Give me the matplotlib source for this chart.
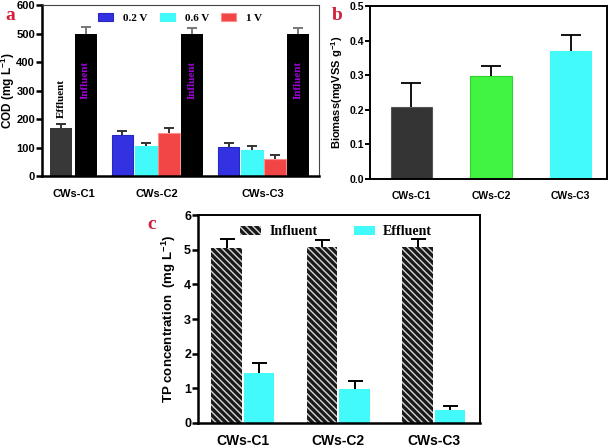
import numpy as np
import matplotlib
matplotlib.use("Agg")
import matplotlib.pyplot as plt

plt.rcParams['font.family'] = ['Liberation Sans', 'DejaVu Sans']
plt.rcParams['font.weight'] = 'bold'
plt.rcParams['hatch.linewidth'] = 1.0
plt.rcParams['mathtext.fontset'] = 'custom'
plt.rcParams['mathtext.rm'] = 'Liberation Sans:bold'
plt.rcParams['mathtext.bf'] = 'Liberation Sans:bold'
plt.rcParams['mathtext.default'] = 'bf'

# panel a: COD
groups = ['CWs-C1', 'CWs-C2', 'CWs-C3']
cod_eff_c1 = 169
cod_eff_c1_err = 13
voltages = ['0.2 V', '0.6 V', '1 V']
cod_c2 = [146, 106, 152]
cod_c2_err = [13, 10, 18]
cod_c3 = [102, 90, 60]
cod_c3_err = [13, 15, 14]
cod_influent = [500, 500, 500]
cod_influent_err = [22, 19, 20]

# panel b: biomass
biomass = [0.209, 0.297, 0.370]
biomass_err = [0.068, 0.030, 0.045]

# panel c: TP
tp_influent = [5.06, 5.07, 5.09]
tp_influent_err = [0.25, 0.21, 0.21]
tp_effluent = [1.43, 0.97, 0.375]
tp_effluent_err = [0.31, 0.23, 0.125]

serif = ['Liberation Serif', 'DejaVu Serif']
vcolors = ['#3232e2', '#42fafa', '#f24646']
vedges = ['#2828c0', '#42fafa', '#ff8c8c']


def up_err(axis, x, y, e, color, cap, lw=1.4):
    # error bar drawn upward only, no cap on the bar top
    x = np.atleast_1d(x)
    y = np.atleast_1d(y)
    e = np.atleast_1d(e)
    _, caps, _ = axis.errorbar(x, y, yerr=[np.zeros(len(y)), e], fmt='none', ecolor=color,
                               elinewidth=lw, capsize=cap, capthick=lw)
    caps[0].set_visible(False)


fig = plt.figure(figsize=(6.14, 4.47), dpi=100)

# ---------------- a ----------------
ax = fig.add_axes([0.0684, 0.606, 0.451, 0.3826])
w = 0.95
x_eff1, x_inf1 = 0.0, 1.065
ax.bar(x_eff1, cod_eff_c1, w, color='#383838')
up_err(ax, x_eff1, cod_eff_c1, cod_eff_c1_err, '#333333', 3.3)
ax.text(x_eff1, 205, 'Effluent', rotation=90, ha='center', va='bottom',
        family=serif, fontsize=8, fontweight='bold', color='black')

starts = [2.67, 7.28]
inf_x = [x_inf1]
for s, vals, errs in zip(starts, [cod_c2, cod_c3], [cod_c2_err, cod_c3_err]):
    for k in range(3):
        xx = s + k * 1.005
        ax.bar(xx, vals[k], w, color=vcolors[k], edgecolor=vedges[k], linewidth=0.8,
               label=voltages[k] if s == starts[0] else None)
        up_err(ax, xx, vals[k], errs[k], '#333333', 3.3)
    inf_x.append(s + 3.02)
for xx, v, e in zip(inf_x, cod_influent, cod_influent_err):
    ax.bar(xx, v, w, color='black')
    up_err(ax, xx, v, e, '#777777', 3.3)
    ax.text(xx, 338, 'Influent', rotation=90, ha='center', va='center',
            family=serif, fontsize=8, fontweight='bold', color='#a000d8')

ax.set_xlim(-0.83, 11.21)
ax.set_ylim(0, 600)
ax.set_yticks(np.arange(0, 601, 100))
ax.set_xticks([(x_eff1 + x_inf1) / 2, (starts[0] + inf_x[1]) / 2, (starts[1] + inf_x[2]) / 2])
ax.set_xticklabels(groups)
ax.tick_params(axis='x', length=0, pad=9, labelsize=8)
ax.tick_params(axis='y', length=4, width=1.8, labelsize=8, pad=1)
ax.set_ylabel('COD (mg L$^{-1}$)', fontsize=8.5, fontweight='bold')
ax.yaxis.set_label_coords(-0.09, 0.5)
for sp in ['left', 'bottom']:
    ax.spines[sp].set_linewidth(1.8)
for sp in ['top', 'right']:
    ax.spines[sp].set_linewidth(0.8)
    ax.spines[sp].set_color('#444444')
ax.legend(loc='upper center', bbox_to_anchor=(0.5, 1.01), ncol=3, frameon=False,
          prop=dict(family=serif, weight='bold', size=8), handlelength=1.35,
          handleheight=0.7, handletextpad=0.9, columnspacing=1.1)
fig.text(0.008, 0.965, 'a', family=serif, fontsize=14, fontweight='bold', color='#d0203a',
         va='center')

# ---------------- b ----------------
bx = fig.add_axes([0.6026, 0.5996, 0.386, 0.387])
bcolors = ['#343434', '#42f442', '#42fafa']
bedges = ['#555555', '#30d030', '#42fafa']
xb = np.arange(len(groups))
bx.bar(xb, biomass, 0.516, color=bcolors, edgecolor=bedges, linewidth=0.8)
up_err(bx, xb, biomass, biomass_err, 'black', 7.5, lw=1.3)
bx.set_xlim(-0.522, 2.459)
bx.set_ylim(0, 0.5)
bx.set_yticks(np.arange(0, 0.51, 0.1))
bx.set_yticklabels([f'{v:.1f}' for v in np.arange(0, 0.51, 0.1)])
bx.set_xticks(xb)
bx.set_xticklabels(groups)
bx.tick_params(axis='x', length=0, pad=9, labelsize=7.5)
bx.tick_params(axis='y', length=3.5, width=1.4, labelsize=7.5, pad=1)
bx.set_ylabel('Biomass(mgVSS g$^{-1}$)', fontsize=8, fontweight='bold', labelpad=3)
for sp in bx.spines.values():
    sp.set_linewidth(1.4)
fig.text(0.541, 0.965, 'b', family=serif, fontsize=14, fontweight='bold', color='#d0203a',
         va='center')

# ---------------- c ----------------
cx = fig.add_axes([0.3225, 0.0537, 0.4593, 0.4653])
xc = np.arange(len(groups))
off = 0.17
cx.bar(xc - off, tp_influent, 0.32, color='#1a1a1a', edgecolor='#d8d8d8', linewidth=0,
       hatch='\\\\\\\\\\', label='Influent')
cx.bar(xc + off, tp_effluent, 0.32, color='#42fafa', label='Effluent')
up_err(cx, xc - off, tp_influent, tp_influent_err, 'black', 5.4)
up_err(cx, xc + off, tp_effluent, tp_effluent_err, 'black', 5.4)
cx.set_xlim(-0.469, 2.484)
cx.set_ylim(0, 6)
cx.set_yticks(range(0, 7))
cx.set_xticks(xc)
cx.set_xticklabels(groups)
cx.tick_params(axis='x', length=0, pad=8, labelsize=10)
cx.tick_params(axis='y', length=4, width=1.8, labelsize=9, pad=1)
cx.set_ylabel('TP concentration  (mg L$^{-1}$)', fontsize=9.5, fontweight='bold',
              labelpad=4)
for sp in ['left', 'bottom']:
    cx.spines[sp].set_linewidth(1.8)
for sp in ['top', 'right']:
    cx.spines[sp].set_linewidth(1.4)
cx.legend(loc='upper center', bbox_to_anchor=(0.49, 1.01), ncol=2, frameon=False,
          prop=dict(family=serif, weight='bold', size=10), handlelength=1.5,
          handleheight=0.6, handletextpad=0.6, columnspacing=2.6)
fig.text(0.240, 0.497, 'c', family=serif, fontsize=14, fontweight='bold', color='#d0203a',
         va='center')

fig.savefig('out.png', dpi=100)
